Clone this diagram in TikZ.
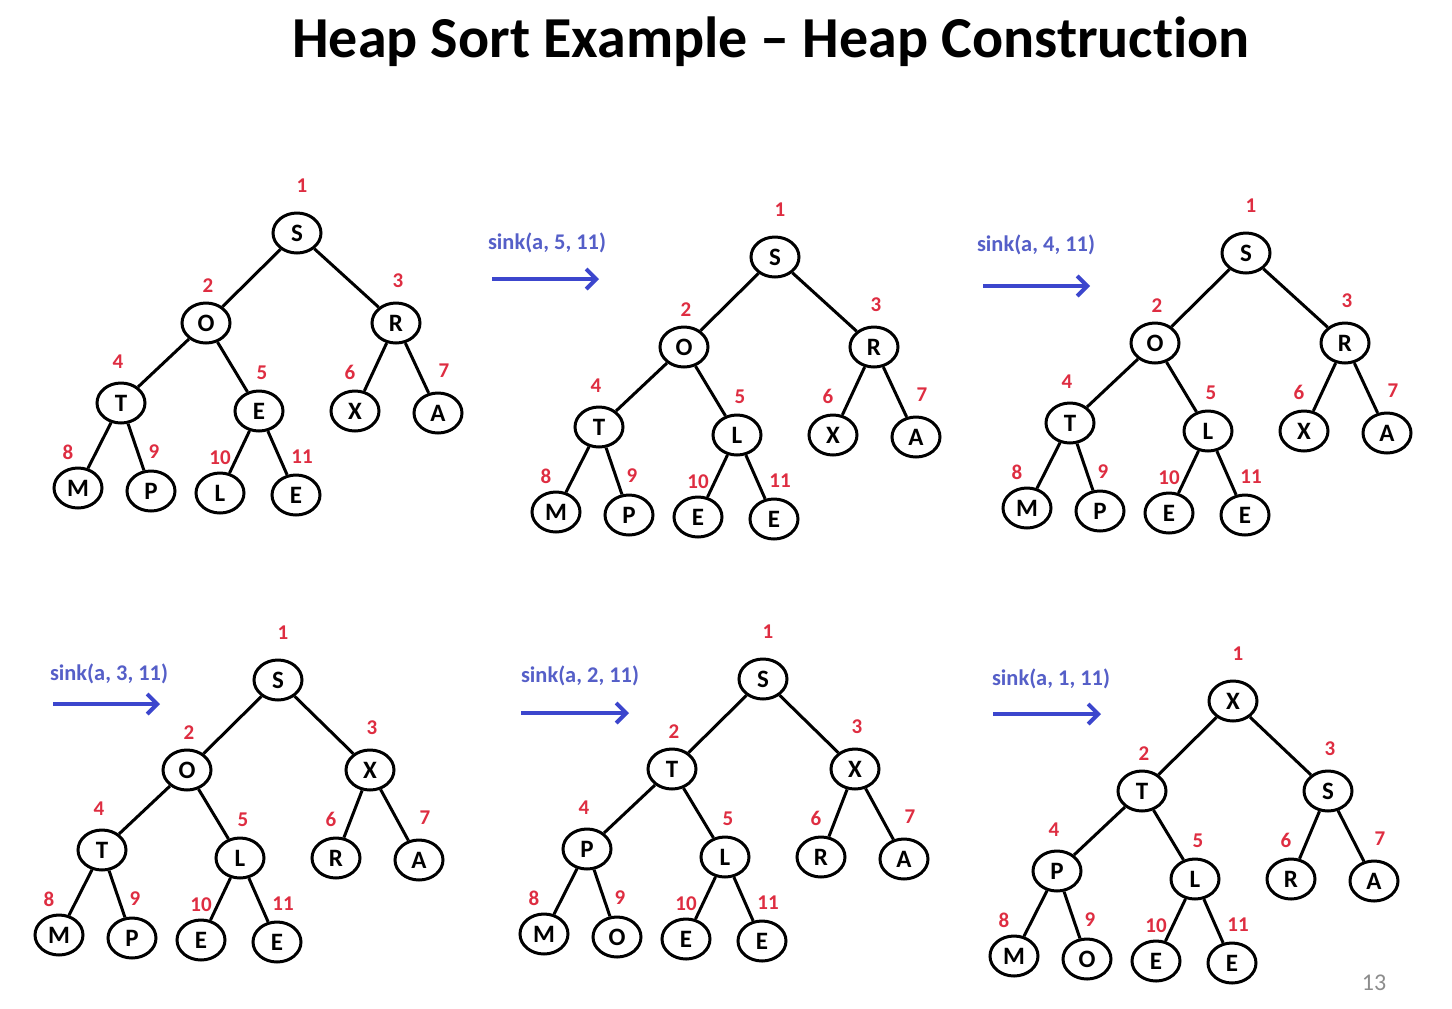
\documentclass[tikz,border=0pt]{standalone}
\usepackage{fontspec}
\setmainfont{Carlito}[Ligatures={TeX,NoCommon}]
\usetikzlibrary{shapes.geometric,arrows.meta,calc}
\definecolor{idxred}{RGB}{222,45,65}
\definecolor{sinkblue}{RGB}{85,95,200}
\definecolor{arrowblue}{RGB}{60,70,205}
\definecolor{pagegray}{RGB}{140,140,140}
\tikzset{
  hnode/.style={draw=black, line width=1.5pt, ellipse, minimum width=24pt, minimum height=20pt, inner sep=0pt, font=\fontsize{12.5}{13}\selectfont\bfseries},
  idx/.style={text=idxred, font=\fontsize{10.5}{11}\selectfont\bfseries, inner sep=0pt},
  edge/.style={line width=1.5pt, black},
  sinklabel/.style={text=sinkblue, font=\fontsize{11.2}{12}\selectfont\bfseries, inner sep=0pt},
  sinkarrow/.style={line width=2pt, arrowblue, -{Straight Barb[length=5pt,width=10pt,line width=2pt]}},
}
% #1 prefix, #2 letters, #3 x-adjust of node 3
\newcommand\heaptree[3]{%
  \foreach \l [count=\i] in {#2} {%
    \pgfmathsetmacro\hx{{297,206,396,121,259,355,438,78,151,220,296}[\i-1]+(\i==3)*(#3)}%
    \pgfmathsetmacro\hy{{233,323,323,403,411,411,413,488,491,493,495}[\i-1]}%
    \pgfmathsetmacro\lx{{5,2,2,-3,3,-5,6,-10,3,0,6}[\i-1]}%
    \pgfmathsetmacro\ly{{-47,-37,-42,-41,-38,-39,-42,-36,-39,-35,-38}[\i-1]}%
    \node[hnode] (#1n\i) at (\hx,\hy) {\l};
    \node[idx] (#1i\i) at (\hx+\lx,\hy+\ly) {\i};
  }%
  \foreach \c/\p in {2/1,3/1,4/2,5/2,6/3,7/3,8/4,9/4,10/5,11/5}
    \draw[edge] (#1n\p) -- (#1n\c);
}
\begin{document}
\begin{tikzpicture}[x=0.5pt,y=-0.5pt]
\path[use as bounding box, fill=white] (0,0) rectangle (1452,1008);
\node (title) at (771,42) {\fontsize{29}{32}\selectfont\bfseries Heap Sort Example – Heap Construction};

\begin{scope}[shift={(0,0)}]
  \heaptree{a}{S,O,R,T,E,X,A,M,P,L,E}{0}
\end{scope}
\begin{scope}[shift={(478,24)}]
  \heaptree{b}{S,O,R,T,L,X,A,M,P,E,E}{0}
\end{scope}
\begin{scope}[shift={(949,20)}]
  \heaptree{c}{S,O,R,T,L,X,A,M,P,E,E}{0}
\end{scope}
\begin{scope}[shift={(-19,447)}]
  \heaptree{d}{S,O,X,T,L,R,A,M,P,E,E}{-7}
\end{scope}
\begin{scope}[shift={(466,446)}]
  \heaptree{e}{S,T,X,P,L,R,A,M,O,E,E}{-7}
\end{scope}
\begin{scope}[shift={(936,468)}]
  \heaptree{f}{X,T,S,P,L,R,A,M,O,E,E}{-4}
\end{scope}

% sink labels and arrows
\node[sinklabel] (s2) at (547,243) {sink(a, 5, 11)};
\coordinate (s2a) at (492,279); \coordinate (s2b) at (599,279);
\draw[sinkarrow] (s2a) -- (s2b);
\node[sinklabel] (s3) at (1036,245) {sink(a, 4, 11)};
\coordinate (s3a) at (983,286); \coordinate (s3b) at (1090,286);
\draw[sinkarrow] (s3a) -- (s3b);
\node[sinklabel] (s4) at (109,674) {sink(a, 3, 11)};
\coordinate (s4a) at (53,704); \coordinate (s4b) at (160,704);
\draw[sinkarrow] (s4a) -- (s4b);
\node[sinklabel] (s5) at (580,676) {sink(a, 2, 11)};
\coordinate (s5a) at (521,713); \coordinate (s5b) at (629,713);
\draw[sinkarrow] (s5a) -- (s5b);
\node[sinklabel] (s6) at (1051,679) {sink(a, 1, 11)};
\coordinate (s6a) at (993,714); \coordinate (s6b) at (1101,714);
\draw[sinkarrow] (s6a) -- (s6b);

\node[text=pagegray, font=\fontsize{12}{13}\selectfont] (page) at (1374,983) {13};
\end{tikzpicture}
\end{document}
